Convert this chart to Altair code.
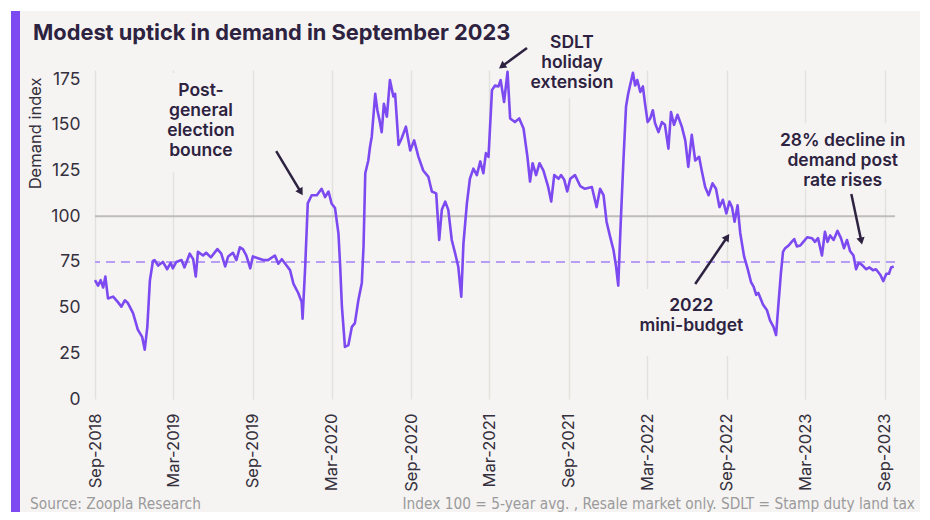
import altair as alt
import pandas as pd

# ---------------- data ----------------
day_offsets = [0, 7, 13, 19, 24, 30, 42, 53, 61, 69, 76, 88, 99, 109, 115, 121, 127, 134, 138, 146,
               157, 167, 175, 180, 188, 200, 207, 219, 227, 233, 238, 250, 257, 268, 283, 292, 301, 308,
               319, 327, 335, 342, 350, 359, 365, 377, 389, 400, 416, 424, 432, 443, 451, 459, 470, 478,
               480, 486, 492, 501, 513, 524, 532, 540, 547, 555, 563, 567, 571, 578, 586, 594, 601, 609,
               617, 621, 625, 632, 636, 640, 648, 653, 658, 663, 668, 675, 682, 690, 694, 702, 709, 719,
               729, 738, 748, 759, 771, 779, 789, 796, 802, 810, 817, 825, 833, 840, 847, 852, 860, 867,
               875, 883, 891, 898, 904, 910, 918, 925, 933, 938, 946, 954, 960, 971, 981, 991, 1000, 1006,
               1012, 1020, 1028, 1037, 1048, 1055, 1062, 1072, 1078, 1085, 1092, 1099, 1110, 1122, 1133,
               1149, 1160, 1168, 1176, 1183, 1191, 1199, 1205, 1210, 1216, 1222, 1228, 1233, 1244, 1249,
               1254, 1261, 1267, 1272, 1278, 1284, 1290, 1295, 1303, 1311, 1318, 1326, 1332, 1339, 1347,
               1357, 1365, 1372, 1380, 1388, 1397, 1403, 1411, 1419, 1428, 1436, 1444, 1452, 1460, 1467,
               1473, 1479, 1486, 1492, 1501, 1509, 1517, 1523, 1529, 1534, 1545, 1554, 1561, 1569, 1575,
               1580, 1586, 1591, 1596, 1604, 1611, 1617, 1623, 1631, 1638, 1647, 1658, 1665, 1672, 1681,
               1688, 1694, 1700, 1708, 1717, 1725, 1732, 1739, 1746, 1754, 1760, 1766, 1773, 1783, 1791,
               1799, 1806, 1816, 1823, 1830, 1836, 1841, 1847]
demand = [65, 62, 65, 61, 67, 55, 56, 53, 50.5, 54, 52.5, 47, 38, 34, 27, 39.5, 65, 75.5, 76, 73,
          75, 71, 74.5, 71.5, 75, 76, 72, 79.5, 76.5, 67, 80.5, 78.5, 80, 77.5, 82, 79.5, 72.5, 78,
          80, 76, 83, 82, 78.5, 71.5, 78, 77, 76, 76, 78.5, 74, 76.5, 73, 70.5, 63, 58, 53,
          44, 72, 107, 111.5, 111.5, 115, 110.5, 113.5, 107, 104.5, 90.5, 72.5, 50.5, 28.5, 29.5, 39.5, 41.5, 54,
          63.5, 83.5, 123.5, 130.5, 138, 143.5, 167, 158, 152.5, 146, 161.5, 154.5, 174.5, 165.5, 167, 139, 142.5, 149,
          136, 141.5, 132.5, 125, 121.5, 113.5, 112.5, 87, 103.5, 108, 103.5, 87, 79.5, 72.5, 56, 85, 107, 120.5,
          126, 122.5, 130, 123.5, 134.5, 132.5, 169, 171.5, 171, 174.5, 162.5, 179, 153.5, 151.5, 153.5, 148, 132.5, 119,
          129, 122.5, 129, 125, 116, 108, 122.5, 120.5, 122.5, 120, 113.5, 120.5, 122.5, 116.5, 115,
          116, 105, 115, 111.5, 97, 89, 81.5, 72.5, 62, 98, 130.5, 160, 167, 178.5, 171.5,
          174.5, 168, 171, 161.5, 151.5, 153.5, 158, 151, 146, 151.5, 150, 137, 157, 150, 155.5,
          149, 141.5, 127, 144.5, 130.5, 132.5, 125, 116, 111.5, 118, 115, 105, 109, 101.5, 108,
          105, 97, 106, 91, 78, 71.5, 64, 61.5, 57, 58, 51.5, 48.5, 43, 39.5, 35,
          50.5, 68.5, 80.5, 82.5, 84, 86, 87.5, 83.5, 84, 86, 88.5, 88, 86, 88, 78.5,
          91.5, 86, 89.5, 87, 92, 88, 82.5, 87, 81, 78.5, 71, 74.5, 73.5, 71, 72,
          70.5, 71, 68, 64.5, 68.5, 68.5, 72, 72.5]

tick_years = [2018, 2019, 2019, 2020, 2020, 2021, 2021, 2022, 2022, 2023, 2023]
tick_months = [9, 3, 9, 3, 9, 3, 9, 3, 9, 3, 9]
y_ticks = [0, 25, 50, 75, 100, 125, 150, 175]
ref_avg = [100]
ref_dash = [75]

ann_text = ["Post-\ngeneral\nelection\nbounce", "SDLT\nholiday\nextension",
            "2022\nmini-budget", "28% decline in\ndemand post\nrate rises"]
ann_day = [245, 1103, 1379, 1729]
ann_val = [173.4, 199.6, 55.8, 146]

box_day0 = [162, 1006, 1242, 1580]
box_day1 = [328, 1200, 1520, 1876]
box_top = [178.3, 200, 60.2, 150.9]
box_bottom = [124.1, 164.6, 23.5, 114.8]

arr_day0 = [419, 999, 1388, 1749]
arr_val0 = [135.6, 192, 62.9, 112.1]
arr_day1 = [476, 941, 1462, 1772]
arr_val1 = [113.2, 182, 88.6, 86.4]
arr_angle = [149, 234, 34, 168]

title_text = "Modest uptick in demand in September 2023"
source_text = "Source: Zoopla Research"
note_text = "Index 100 = 5-year avg. , Resale market only. SDLT = Stamp duty land tax"

# ---------------- styling ----------------
BG = "#f5f4f2"
PURPLE = "#7c4af0"
LIGHT_PURPLE = "#b79df5"
DARK = "#2d2240"
LABEL = "#35303d"
W, H = 800, 329
PAD_L, PAD_T, PAD_R, PAD_B = 87, 62, 25, 113

base = pd.Timestamp("2018-09-01")


def to_dates(days):
    return base + pd.to_timedelta(days, unit="D")


df = pd.DataFrame({"date": to_dates(day_offsets), "demand": demand})
ann = pd.DataFrame({"date": to_dates(ann_day), "val": ann_val, "txt": ann_text})
boxes = pd.DataFrame({"date": to_dates(box_day0), "d1": to_dates(box_day1),
                      "demand": box_top, "v1": box_bottom})
arrows = pd.DataFrame({"date": to_dates(arr_day0), "d1": to_dates(arr_day1),
                       "demand": arr_val0, "v1": arr_val1, "ang": arr_angle})

xs = alt.Scale(domain=[alt.DateTime(year=2018, month=9, date=1),
                       alt.DateTime(year=2023, month=9, date=25)])
ys = alt.Scale(domain=[0, 180], nice=False)

x_axis = alt.Axis(values=[alt.DateTime(year=y, month=m, date=1) for y, m in zip(tick_years, tick_months)],
                  format="%b-%Y", labelAngle=270, labelAlign="right", labelBaseline="middle",
                  labelPadding=14, labelFlush=False, labelOverlap=False, grid=True,
                  gridColor="#e3e1de", gridWidth=1.5, labelFont="Inter", labelFontSize=16.5,
                  labelColor=LABEL, title=None)
y_axis = alt.Axis(values=y_ticks, grid=False, labelPadding=15, labelFont="Inter", labelFontSize=17.5,
                  labelColor=LABEL, title="Demand index", titleAngle=270, titleX=-60, titleY=7,
                  titleAlign="right", titleBaseline="middle", titleFont="Inter", titleFontSize=16.5,
                  titleFontWeight="normal", titleColor=LABEL, labelOverlap=False)


def X(field):
    return alt.X(field, scale=xs, axis=x_axis, title=None)


def Y(field):
    return alt.Y(field, scale=ys, axis=y_axis, title="Demand index")


line = alt.Chart(df).mark_line(color=PURPLE, strokeWidth=2.6, strokeJoin="round").encode(
    x=X("date:T"), y=Y("demand:Q"),
)

box_layer = alt.Chart(boxes).mark_rect(color=BG).encode(
    x=X("date:T"), x2="d1:T", y=Y("demand:Q"), y2="v1:Q",
)

rule100 = alt.Chart(pd.DataFrame({"demand": ref_avg})).mark_rule(color="#bfbdba", strokeWidth=2).encode(
    y=Y("demand:Q"))
rule75 = alt.Chart(pd.DataFrame({"demand": ref_dash})).mark_rule(
    color=LIGHT_PURPLE, strokeWidth=2, strokeDash=[9, 6]).encode(y=Y("demand:Q"))

arrow_lines = alt.Chart(arrows).mark_rule(color=DARK, strokeWidth=2.5).encode(
    x=X("date:T"), x2="d1:T", y=Y("demand:Q"), y2="v1:Q",
)
arrow_heads = alt.Chart(arrows).mark_point(shape="triangle-up", filled=True, color=DARK,
                                           size=70, opacity=1).encode(
    x=X("d1:T"), y=Y("v1:Q"),
    angle=alt.Angle("ang:Q", scale=None),
)

ann_layer = alt.Chart(ann).mark_text(font="Inter", fontSize=17.5, fontWeight=600, color=DARK,
                                     align="center", baseline="top", lineBreak="\n",
                                     lineHeight=20).encode(
    x=X("date:T"), y=Y("val:Q"), text="txt:N",
)

one = alt.Data(values=[{"a": 1}])
white_top = alt.Chart(one).mark_rect(color="white").encode(
    x=alt.value(-PAD_L), x2=alt.value(W + PAD_R), y=alt.value(-PAD_T), y2=alt.value(-PAD_T + 3))
white_left = alt.Chart(one).mark_rect(color="white").encode(
    x=alt.value(-PAD_L), x2=alt.value(-PAD_L + 3), y=alt.value(-PAD_T), y2=alt.value(H + PAD_B))
purple_bar = alt.Chart(one).mark_rect(color=PURPLE).encode(
    x=alt.value(-PAD_L + 3), x2=alt.value(-PAD_L + 12), y=alt.value(-PAD_T + 3), y2=alt.value(H + PAD_B))

title = alt.Chart(one).mark_text(text=title_text, font="Inter", fontSize=21.8, fontWeight="bold",
                                 color=DARK, align="left", baseline="alphabetic").encode(
    x=alt.value(-62), y=alt.value(-30))
source = alt.Chart(one).mark_text(text=source_text, font="DejaVu Sans Condensed", fontSize=15.3,
                                  color="#9b9a9c", align="left", baseline="alphabetic").encode(
    x=alt.value(-65), y=alt.value(439))
note = alt.Chart(one).mark_text(text=note_text, font="DejaVu Sans Condensed", fontSize=15.3,
                                color="#9b9a9c", align="right", baseline="alphabetic").encode(
    x=alt.value(820), y=alt.value(439))

chart = alt.layer(
    box_layer, rule100, rule75, line, arrow_lines, arrow_heads, ann_layer,
    white_top, white_left, purple_bar, title, source, note,
).properties(
    width=W, height=H,
    autosize=alt.AutoSizeParams(type="none"),
    padding={"left": PAD_L, "top": PAD_T, "right": PAD_R, "bottom": PAD_B},
    background=BG,
).configure_view(stroke=None).configure_axis(domain=False, ticks=False)

chart.save("out.html", embed_options={"renderer": "svg", "actions": False})
